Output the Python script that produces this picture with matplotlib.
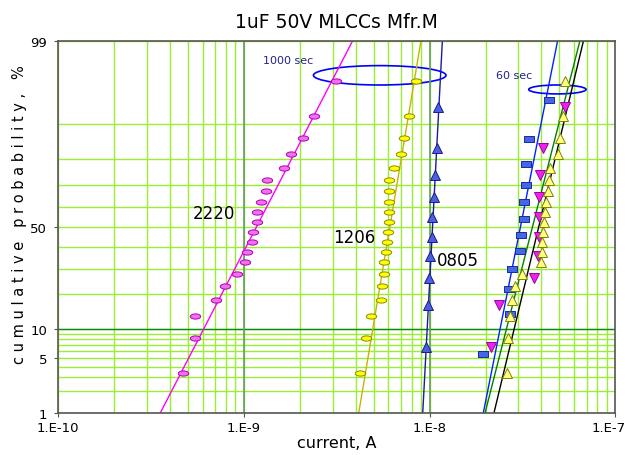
import matplotlib
matplotlib.use("Agg")
import matplotlib.pyplot as plt
import matplotlib.transforms as mtransforms
import numpy as np
from matplotlib.patches import Ellipse
from statistics import NormalDist

# cumulative probability (%) of the ranked points
prob_20 = [3.43, 8.33, 13.24, 18.14, 23.04, 27.94, 32.84, 37.75, 42.65, 47.55,
           52.45, 57.35, 62.25, 67.16, 72.06, 76.96, 81.86, 86.76, 91.67, 96.57]
prob_10 = [6.73, 16.35, 25.96, 35.58, 45.19, 54.81, 64.42, 74.04, 83.65, 93.27]
prob_12 = [5.65, 13.71, 21.77, 29.84, 37.90, 45.97, 54.03, 62.10, 70.16, 78.23,
           86.29, 94.35]

# 1000 sec currents, A
cur_2220 = [4.69e-10, 5.45e-10, 5.46e-10, 7.04e-10, 7.88e-10, 9.21e-10, 1.013e-9,
            1.034e-9, 1.109e-9, 1.123e-9, 1.171e-9, 1.180e-9, 1.235e-9, 1.309e-9,
            1.330e-9, 1.637e-9, 1.785e-9, 2.08e-9, 2.377e-9, 3.12e-9]
cur_1206 = [4.20e-9, 4.54e-9, 4.83e-9, 5.49e-9, 5.52e-9, 5.68e-9, 5.68e-9, 5.80e-9,
            5.87e-9, 5.99e-9, 6.02e-9, 6.07e-9, 6.07e-9, 6.07e-9, 6.07e-9, 6.40e-9,
            6.99e-9, 7.28e-9, 7.74e-9, 8.44e-9]
cur_0805 = [9.56e-9, 9.84e-9, 9.88e-9, 1.005e-8, 1.026e-8, 1.027e-8, 1.060e-8,
            1.072e-8, 1.091e-8, 1.109e-8]

# 60 sec currents, A
cur_sq = [1.945e-8, 2.72e-8, 2.68e-8, 2.79e-8, 3.05e-8, 3.10e-8, 3.22e-8, 3.24e-8,
          3.29e-8, 3.30e-8, 3.42e-8, 4.38e-8]
cur_dn = [2.14e-8, 2.355e-8, 3.63e-8, 3.83e-8, 3.88e-8, 3.88e-8, 3.90e-8, 3.92e-8,
          4.08e-8, 5.38e-8]
cur_up = [2.62e-8, 2.63e-8, 2.71e-8, 2.78e-8, 2.89e-8, 3.15e-8, 3.96e-8, 4.01e-8,
          4.03e-8, 4.09e-8, 4.13e-8, 4.18e-8, 4.23e-8, 4.34e-8, 4.39e-8, 4.47e-8,
          4.93e-8, 5.05e-8, 5.21e-8, 5.38e-8]

# fitted lines: current at 1 % and 99 %
fit_p = [1, 99]
fit_2220 = [3.54e-10, 3.85e-9]
fit_1206 = [4.15e-9, 8.98e-9]
fit_0805 = [9.18e-9, 1.171e-8]
fit_sq = [1.945e-8, 4.89e-8]
fit_dn = [1.987e-8, 6.45e-8]
fit_up = [2.22e-8, 6.74e-8]

y_ticks = [1, 5, 10, 50, 99]
y_minor = [2, 3, 4, 6, 7, 8, 9, 20, 30, 40, 60, 70, 80, 90]
x_ticks = [1e-10, 1e-9, 1e-8, 1e-7]
x_labels = ["1.E-10", "1.E-9", "1.E-8", "1.E-7"]

# normal probability scale
_nd = NormalDist()
_ppf = np.vectorize(_nd.inv_cdf, otypes=[float])
_cdf = np.vectorize(_nd.cdf, otypes=[float])


def fwd(p):
    p = np.clip(np.asarray(p, dtype=float) / 100.0, 1e-12, 1 - 1e-12)
    return _ppf(p)


def inv(z):
    return _cdf(np.asarray(z, dtype=float)) * 100.0


t = np.linspace(0, 2 * np.pi, 40)
oval = list(zip(np.cos(t), 0.5 * np.sin(t)))
rect = [(-1, -0.62), (1, -0.62), (1, 0.62), (-1, 0.62), (-1, -0.62)]

fig = plt.figure(figsize=(6.25, 4.56), dpi=100)
ax = fig.add_axes([0.0933, 0.0921, 0.8912, 0.8165])
ax.set_xscale("log")
ax.set_yscale("function", functions=(fwd, inv))
ax.set_xlim(1e-10, 1e-7)
ax.set_ylim(1, 99)

light = "#99ee33"
ax.set_yticks(y_ticks)
ax.set_yticklabels([str(v) for v in y_ticks])
ax.set_yticks(y_minor, minor=True)
ax.set_xticks(x_ticks)
ax.set_xticklabels(x_labels)
ax.grid(True, which="both", color=light, linewidth=1.0)
ax.axhline(10, color="#118811", linewidth=1.0)
for xv in [1e-9, 1e-8]:
    ax.axvline(xv, color="#6a9a6a", linewidth=1.2)
ax.set_axisbelow(True)

# fitted lines
ax.plot(fit_2220, fit_p, color="#ff00ff", lw=1)
ax.plot(fit_1206, fit_p, color="#c8b400", lw=1)
ax.plot(fit_0805, fit_p, color="#1a1aa0", lw=1)
ax.plot(fit_sq, fit_p, color="#0022ff", lw=1)
ax.plot(fit_dn, fit_p, color="#008000", lw=1)
ax.plot(fit_up, fit_p, color="black", lw=1)

# data points
ax.plot(cur_2220, prob_20, ls="none", marker=oval, ms=7.5,
        mfc="#f070f0", mec="#b000b0", mew=0.7)
ax.plot(cur_1206, prob_20, ls="none", marker=oval, ms=7.5,
        mfc="#ffff00", mec="#8a8a00", mew=0.7)
ax.plot(cur_0805, prob_10, ls="none", marker="^", ms=7,
        mfc="#4b5fe0", mec="#1a1a8a", mew=0.7)
ax.plot(cur_sq, prob_12, ls="none", marker=rect, ms=6.5,
        mfc="#4466e8", mec="#1a2a9a", mew=0.7)
ax.plot(cur_dn, prob_10, ls="none", marker="v", ms=7.5,
        mfc="#ee22ee", mec="#990099", mew=0.7)
ax.plot(cur_up, prob_20, ls="none", marker="^", ms=7.5,
        mfc="#ffff80", mec="#808000", mew=0.7)

# annotations
ax.add_patch(Ellipse((0.577, 0.907), 0.238, 0.052, transform=ax.transAxes,
                     fill=False, edgecolor="#0000ff", lw=1.2))
ax.add_patch(Ellipse((0.896, 0.869), 0.103, 0.024, transform=ax.transAxes,
                     fill=False, edgecolor="#0000ff", lw=1.2))
ax.text(0.367, 0.949, "1000 sec", transform=ax.transAxes, fontsize=8,
        color="#22228a", va="center")
ax.text(0.786, 0.909, "60 sec", transform=ax.transAxes, fontsize=8,
        color="#22228a", va="center")
ax.text(0.241, 0.537, "2220", transform=ax.transAxes, fontsize=12, va="center")
ax.text(0.494, 0.473, "1206", transform=ax.transAxes, fontsize=12, va="center")
ax.text(0.679, 0.412, "0805", transform=ax.transAxes, fontsize=12, va="center")

for s in ax.spines.values():
    s.set_color("#555555")
    s.set_linewidth(1.2)
ax.tick_params(axis="both", which="major", labelsize=9.5, length=3, color="#555555")
ax.tick_params(axis="both", which="minor", length=0)
ax.tick_params(axis="y", pad=5)
ax.tick_params(axis="x", pad=3)

# keep the last x label inside the figure, as in the original
last = ax.get_xticklabels()[-1]
last.set_transform(last.get_transform() +
                   mtransforms.ScaledTranslation(-7 / 100, 0, fig.dpi_scale_trans))

ax.set_title("1uF 50V MLCCs Mfr.M", fontsize=13.5, pad=10)
ax.set_xlabel("current, A", fontsize=11.5)
ax.xaxis.set_label_coords(0.5, -0.06)
ax.set_ylabel(" ".join("cumulative probability, %"), fontsize=10.5)
ax.yaxis.set_label_coords(-0.056, 0.535)

fig.savefig("out.png", dpi=100)
